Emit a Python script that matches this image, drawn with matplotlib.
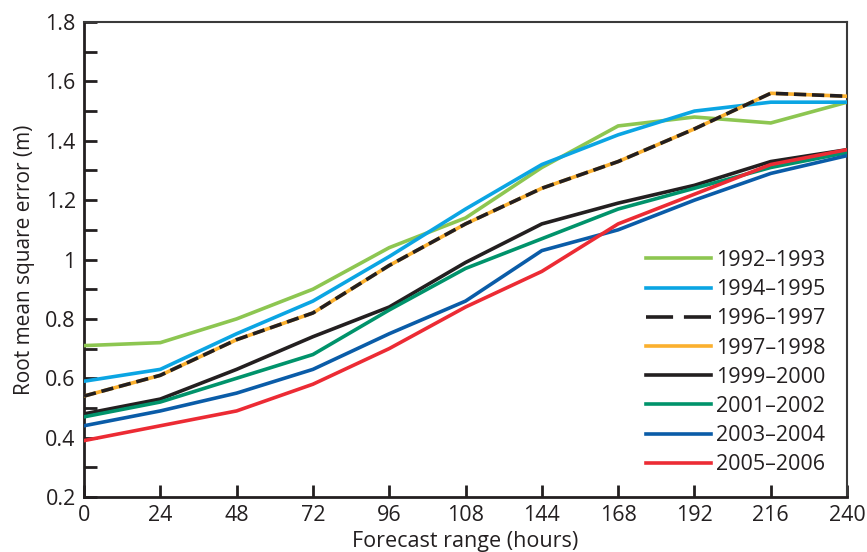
import matplotlib
matplotlib.use("Agg")
import matplotlib.pyplot as plt
from matplotlib.ticker import MultipleLocator, FuncFormatter

plt.rcParams['font.family'] = ['Open Sans', 'DejaVu Sans']

# forecast range categories (hours), plotted evenly spaced
hours = ["0", "24", "48", "72", "96", "108", "144", "168", "192", "216", "240"]

rmse_1992 = [0.71, 0.72, 0.80, 0.90, 1.04, 1.14, 1.31, 1.45, 1.48, 1.46, 1.53]
rmse_1994 = [0.59, 0.63, 0.75, 0.86, 1.01, 1.17, 1.32, 1.42, 1.50, 1.53, 1.53]
rmse_1996 = [0.54, 0.61, 0.73, 0.82, 0.98, 1.12, 1.24, 1.33, 1.44, 1.56, 1.55]
rmse_1997 = [0.54, 0.61, 0.73, 0.82, 0.98, 1.12, 1.24, 1.33, 1.44, 1.56, 1.55]
rmse_1999 = [0.48, 0.53, 0.63, 0.74, 0.84, 0.99, 1.12, 1.19, 1.25, 1.33, 1.37]
rmse_2001 = [0.47, 0.52, 0.60, 0.68, 0.83, 0.97, 1.07, 1.17, 1.24, 1.31, 1.36]
rmse_2003 = [0.44, 0.49, 0.55, 0.63, 0.75, 0.86, 1.03, 1.10, 1.20, 1.29, 1.35]
rmse_2005 = [0.39, 0.44, 0.49, 0.58, 0.70, 0.84, 0.96, 1.12, 1.22, 1.32, 1.37]

ink = "#231f20"

fig = plt.figure(figsize=(8.67, 5.52), dpi=100)
ax = fig.add_axes([0.0969, 0.0996, 0.8801, 0.8605])

x = range(len(hours))
lw = 2.6
ax.plot(x, rmse_1992, color="#8dc651", lw=lw, label="1992\u20131993", zorder=3)
ax.plot(x, rmse_1994, color="#0ba5e3", lw=lw, label="1994\u20131995", zorder=3)
ax.plot(x, rmse_1997, color="#fbb02e", lw=lw, zorder=4)
ax.plot(x, rmse_1996, color=ink, lw=lw, ls=(0, (3.4, 1.6)), zorder=5)
# legend handle for the dashed series uses longer dashes, like the original key
ax.plot([], [], color=ink, lw=lw, ls=(0, (7.5, 3.0)), label="1996\u20131997")
ax.plot([], [], color="#fbb02e", lw=lw, label="1997\u20131998")
ax.plot(x, rmse_1999, color=ink, lw=lw, label="1999\u20132000", zorder=3)
ax.plot(x, rmse_2001, color="#00936b", lw=lw, label="2001\u20132002", zorder=3)
ax.plot(x, rmse_2003, color="#0a5ca8", lw=lw, label="2003\u20132004", zorder=3)
ax.plot(x, rmse_2005, color="#ec2b34", lw=lw, label="2005\u20132006", zorder=3)

ax.set_xlim(0, len(hours) - 1)
ax.set_ylim(0.2, 1.8)
ax.set_xticks(list(x))
ax.set_xticklabels(hours)
ax.yaxis.set_major_locator(MultipleLocator(0.2))
ax.yaxis.set_minor_locator(MultipleLocator(0.1))
ax.yaxis.set_major_formatter(FuncFormatter(lambda v, p: f"{v:g}" if abs(v - 1) > 1e-6 else "1"))

ax.tick_params(axis="both", which="both", direction="in", length=9, width=2,
               color=ink, labelsize=15.5, labelcolor=ink, pad=6)

for side in ["left", "bottom"]:
    ax.spines[side].set_linewidth(2)
    ax.spines[side].set_color(ink)
for side in ["top", "right"]:
    ax.spines[side].set_linewidth(1.5)
    ax.spines[side].set_color("#3a3a3a")

ax.set_xlabel("Forecast range (hours)", fontsize=15.5, color=ink, labelpad=3)
ax.set_ylabel("Root mean square error (m)", fontsize=15, color=ink, labelpad=7)

leg = ax.legend(loc="upper left", bbox_to_anchor=(646 / 867, 1 - 250 / 552),
                bbox_transform=fig.transFigure, frameon=False, fontsize=15.5,
                handlelength=3.0, handletextpad=0.25, labelspacing=0.38,
                borderpad=0, borderaxespad=0)
for t in leg.get_texts():
    t.set_color(ink)

fig.savefig("out.png", dpi=100)
